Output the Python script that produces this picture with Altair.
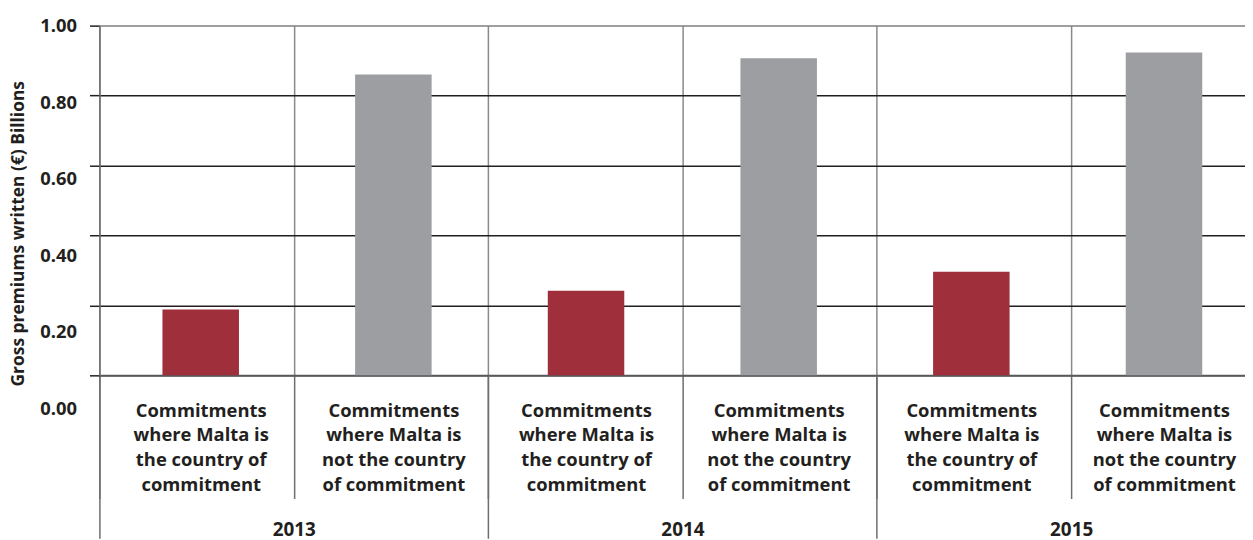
import json
import altair as alt
import pandas as pd

# ---- data ----
years = ["2013", "2014", "2015"]
types = ["Malta is the country of commitment", "Malta is not the country of commitment"]
type_lines = [
    ["Commitments", "where Malta is", "the country of", "commitment"],
    ["Commitments", "where Malta is", "not the country", "of commitment"],
]
malta_values = [0.188, 0.242, 0.296]
other_values = [0.86, 0.907, 0.923]
y_ticks = [0.0, 0.2, 0.4, 0.6, 0.8, 1.0]
bar_colors = ["#9e2f3b", "#9d9ea2"]

FONT = "Open Sans"
TXT = "#231f20"
LINE = "#6d6e71"

# slots: one per (year, type); the x scale is in slot units
rows = []
for i, yr in enumerate(years):
    for j, (tp, vals) in enumerate(zip(types, [malta_values, other_values])):
        slot = i * len(types) + j
        rows.append({"slot": slot, "center": slot + 0.5, "year": yr, "type": tp, "value": vals[i]})
df = pd.DataFrame(rows)
n_slots = len(df)
slot_centers = list(df["center"])
# the closing edge of the last slot lies past the right edge of the picture
slot_edges = list(range(n_slots))
year_centers = [i * len(types) + len(types) / 2 for i in range(len(years))]
year_edges = [i * len(types) for i in range(len(years))]

# plot area is 1153 px wide; each slot is wider than 1/6 of it, so the last slot runs past the edge
X_DOMAIN = [0, 1153 / 195.6]

def xscale():
    return alt.Scale(domain=X_DOMAIN, nice=False, zero=False)

cat_label_expr = (
    f"floor(datum.value) % 2 == 0 ? {json.dumps(type_lines[0])} : {json.dumps(type_lines[1])}"
)
year_label_expr = f"{json.dumps(years)}[floor(datum.value / 2)]"

bars = alt.Chart(df).mark_bar(width=77).encode(
    x=alt.X(
        "center:Q", scale=xscale(),
        axis=alt.Axis(
            title=None, orient="bottom", values=slot_centers, labelExpr=cat_label_expr,
            labelAngle=0, labelFont=FONT, labelFontSize=18.5, labelFontWeight="bold",
            labelColor=TXT, labelLineHeight=25, labelPadding=26, labelOverlap=False,
            labelLimit=0, labelFlush=False, ticks=False, grid=False,
            domain=True, domainColor="#58595b", domainWidth=2,
        ),
    ),
    y=alt.Y(
        "value:Q",
        scale=alt.Scale(domain=[0, 1], nice=False, zero=True),
        axis=alt.Axis(
            title=None, orient="left", labels=False, values=y_ticks,
            ticks=True, tickSize=10, tickColor="#231f20", tickWidth=1.5,
            grid=True, gridWidth=1.5,
            gridColor={"condition": {"test": "datum.value == 1 || datum.value == 0", "value": "#7f7f7f"}, "value": "#231f20"},
            domain=True, domainColor=LINE, domainWidth=1.5,
        ),
    ),
    color=alt.Color("type:N", scale=alt.Scale(domain=types, range=bar_colors), legend=None),
)

edge_df = pd.DataFrame({"edge": slot_edges})
edge_layer = alt.Chart(edge_df).mark_point(opacity=0).encode(
    x=alt.X(
        "edge:Q", scale=xscale(),
        axis=alt.Axis(
            title=None, orient="bottom", values=slot_edges, labels=False,
            ticks=True, tickSize=124, tickColor=LINE, tickWidth=1.5,
            grid=True, gridColor="#8a8a8a", gridWidth=1.5, domain=False,
        ),
    ),
)

year_df = pd.DataFrame({"year": years, "center": year_centers})
year_layer = alt.Chart(year_df).mark_point(opacity=0).encode(
    x=alt.X(
        "center:Q", scale=xscale(),
        axis=alt.Axis(
            title=None, orient="bottom", values=year_centers, labelExpr=year_label_expr,
            labelAngle=0, labelFont=FONT, labelFontSize=19, labelFontWeight="bold",
            labelColor=TXT, labelPadding=146, labelOverlap=False, labelFlush=False,
            ticks=False, grid=False, domain=False,
        ),
    ),
)

year_edge_df = pd.DataFrame({"edge": year_edges})
year_edge_layer = alt.Chart(year_edge_df).mark_point(opacity=0).encode(
    x=alt.X(
        "edge:Q", scale=xscale(),
        axis=alt.Axis(
            title=None, orient="bottom", values=year_edges, labels=False,
            ticks=True, tickSize=164, tickColor=LINE, tickWidth=1.5,
            grid=False, domain=False,
        ),
    ),
)

ylab_df = pd.DataFrame({"v": y_ticks})
ylab_layer = alt.Chart(ylab_df).mark_point(opacity=0).encode(
    y=alt.Y(
        "v:Q",
        scale=alt.Scale(domain=[0, 1], range=[385, 0], nice=False, zero=False),
        axis=alt.Axis(
            orient="left", values=y_ticks, format=".2f",
            labelFont=FONT, labelFontSize=18.5, labelFontWeight="bold", labelColor=TXT,
            labelPadding=23, labelOverlap=False, labelBaseline="middle",
            ticks=False, domain=False, grid=False,
            title="Gross premiums written (€) Billions",
            titleFont=FONT, titleFontSize=17.5, titleFontWeight="bold", titleColor=TXT,
            titleX=-81, titleY=209, titleAngle=270, titleAlign="center", titleBaseline="middle",
        ),
    ),
)

chart = alt.layer(edge_layer, bars, year_layer, year_edge_layer, ylab_layer).resolve_scale(
    x="independent", y="independent"
).properties(
    width=1153, height=352,
    autosize=alt.AutoSizeParams(type="none"),
    padding={"left": 92, "top": 16, "right": 0, "bottom": 164},
).configure_view(stroke=None)

chart.save("out.html", embed_options={"renderer": "svg", "actions": False})
